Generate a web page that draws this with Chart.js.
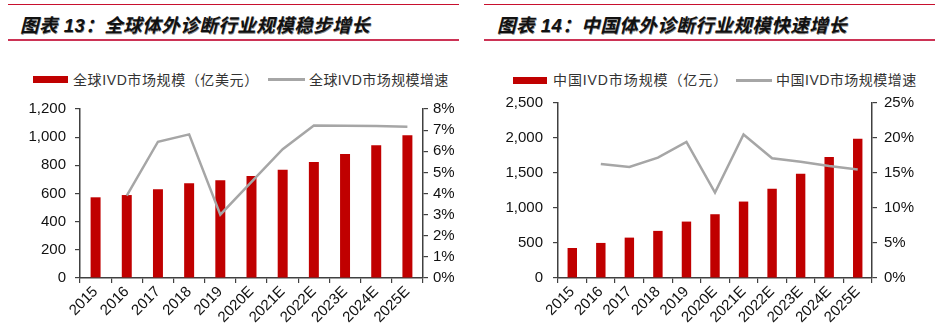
<!DOCTYPE html>
<html>
<head>
<meta charset="utf-8">
<script src="https://cdn.jsdelivr.net/npm/chart.js@4"></script>
<style>
html,body{margin:0;padding:0;background:#fff;}
body{width:940px;height:334px;position:relative;overflow:hidden;font-family:"Liberation Sans","Noto Sans CJK SC",sans-serif;}
.panel{position:absolute;top:0;width:470px;height:334px;}
.ln{position:absolute;}
.title{position:absolute;top:11px;font-size:18.5px;font-weight:bold;font-style:italic;color:#111;white-space:nowrap;letter-spacing:0.5px;text-shadow:0.5px 0.5px 0.5px #888;}
.leg{position:absolute;font-size:14px;color:#333;white-space:nowrap;top:71px;line-height:18px;}
.sw{position:absolute;}
canvas{position:absolute;left:0;top:0;}
</style>
</head>
<body>
<div class="panel" id="p1" style="left:0">
  <div class="ln" style="left:8px;top:4px;width:451px;height:1px;background:#c8102e"></div>
  <div class="title" style="left:20px">图表 13：全球体外诊断行业规模稳步增长</div>
  <div class="ln" style="left:8px;top:39px;width:451px;height:2px;background:#cc3355"></div>
  <div class="sw" style="left:33px;top:76px;width:35px;height:7px;background:#c00000"></div>
  <div class="leg" id="l1a" style="left:73px;letter-spacing:0.6px"></div>
  <div class="sw" style="left:268px;top:78px;width:37px;height:3px;background:#a6a6a6"></div>
  <div class="leg" id="l1b" style="left:309px;letter-spacing:0.4px"></div>
  <canvas id="c1" width="470" height="334"></canvas>
</div>
<div class="panel" id="p2" style="left:470px">
  <div class="ln" style="left:14px;top:4px;width:451px;height:1px;background:#c8102e"></div>
  <div class="title" style="left:27px">图表 14：中国体外诊断行业规模快速增长</div>
  <div class="ln" style="left:14px;top:39px;width:451px;height:2px;background:#cc3355"></div>
  <div class="sw" style="left:43px;top:77px;width:34px;height:7px;background:#c00000"></div>
  <div class="leg" id="l2a" style="left:83px;letter-spacing:0.9px"></div>
  <div class="sw" style="left:266px;top:79px;width:36px;height:3px;background:#a6a6a6"></div>
  <div class="leg" id="l2b" style="left:306px;letter-spacing:0.5px"></div>
  <canvas id="c2" width="470" height="334"></canvas>
</div>
<script>
// ---- data ----
const categories = ["2015","2016","2017","2018","2019","2020E","2021E","2022E","2023E","2024E","2025E"];

const globalLabelBar = "全球IVD市场规模（亿美元）";
const globalLabelLine = "全球IVD市场规模增速";
const globalSize = [573, 589, 630, 672, 694, 724, 769, 824, 880, 942, 1013];
const globalGrowth = [null, 3.9, 6.45, 6.8, 3.0, 4.55, 6.1, 7.22, 7.21, 7.19, 7.16];
const globalLeftTicks = [0, 1200, 200];
const globalRightTicks = [0, 8, 1];

const chinaLabelBar = "中国IVD市场规模（亿元）";
const chinaLabelLine = "中国IVD市场规模增速";
const chinaSize = [429, 501, 577, 673, 806, 911, 1092, 1274, 1488, 1727, 1989];
const chinaGrowth = [null, 16.3, 15.85, 17.2, 19.45, 12.2, 20.5, 17.1, 16.6, 16.0, 15.5];
const chinaLeftTicks = [0, 2500, 500];
const chinaRightTicks = [0, 25, 5];

document.getElementById('l1a').textContent = globalLabelBar;
document.getElementById('l1b').textContent = globalLabelLine;
document.getElementById('l2a').textContent = chinaLabelBar;
document.getElementById('l2b').textContent = chinaLabelLine;

const AX = '#404040';
const tickFont = {family: '"Liberation Sans", Arial, sans-serif', size: 15};

function makeChart(id, sizes, growth, lt, rt, geo) {
  new Chart(document.getElementById(id), {
    data: {
      labels: categories,
      datasets: [
        {type: 'line', data: growth, yAxisID: 'y1', borderColor: '#a6a6a6', borderWidth: 2.5,
         pointRadius: 0, tension: 0, order: 0, spanGaps: false},
        {type: 'bar', data: sizes, yAxisID: 'y', backgroundColor: '#c00000',
         barPercentage: geo.bp, categoryPercentage: 1, order: 1}
      ]
    },
    options: {
      responsive: false, animation: false, devicePixelRatio: 1,
      layout: {padding: {top: geo.top, left: 0, right: 0, bottom: 0}},
      plugins: {legend: {display: false}, tooltip: {enabled: false}},
      scales: {
        x: {
          grid: {offset: true, drawOnChartArea: false, drawTicks: true, tickLength: 5, color: AX, lineWidth: 1.2},
          border: {color: AX, width: 1.5},
          ticks: {font: tickFont, color: '#111', minRotation: 45, maxRotation: 45, padding: 0, autoSkip: false},
          afterFit: s => { s.height = 56; }
        },
        y: {
          position: 'left', min: lt[0], max: lt[1],
          grid: {drawOnChartArea: false, drawTicks: true, tickLength: 5, color: AX, lineWidth: 1.2},
          border: {color: AX, width: 1.5},
          ticks: {stepSize: lt[2], font: tickFont, color: '#111', padding: geo.lpad,
                  callback: v => v.toLocaleString('en-US')},
          afterFit: s => { s.width = geo.left; }
        },
        y1: {
          position: 'right', min: rt[0], max: rt[1],
          grid: {drawOnChartArea: false, drawTicks: true, tickLength: 5, color: AX, lineWidth: 1.2},
          border: {color: AX, width: 1.5},
          ticks: {stepSize: rt[2], font: tickFont, color: '#111', padding: geo.rpad,
                  callback: v => v + '%'},
          afterFit: s => { s.width = geo.right; }
        }
      }
    }
  });
}

makeChart('c1', globalSize, globalGrowth, globalLeftTicks, globalRightTicks,
  {top: 109, left: 80, right: 47, bp: 0.32, lpad: 9, rpad: 5});
makeChart('c2', chinaSize, chinaGrowth, chinaLeftTicks, chinaRightTicks,
  {top: 103, left: 88, right: 68, bp: 0.33, lpad: 10, rpad: 7});
</script>
</body>
</html>
